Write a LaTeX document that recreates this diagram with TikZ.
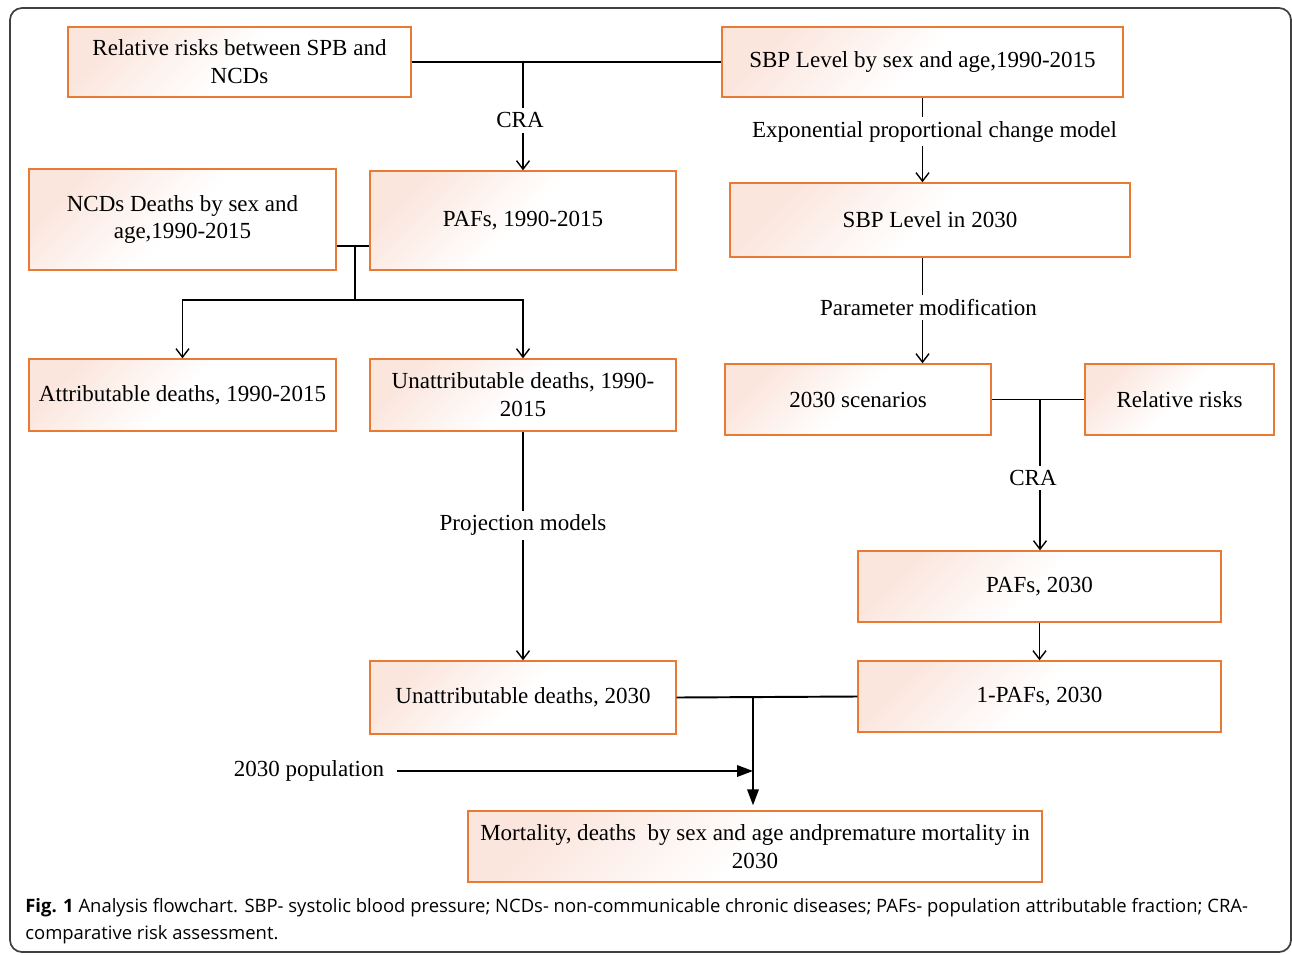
\documentclass[tikz,border=0pt]{standalone}
\usepackage{fontspec}
\setmainfont{Liberation Serif}
\newfontfamily\capfont{Open Sans}
\usepackage{tikz}
\usetikzlibrary{arrows.meta}
\definecolor{boxline}{RGB}{232,122,52}
\definecolor{boxfill}{RGB}{251,230,222}

\tikzset{
  box/.style={draw=boxline, line width=0.8pt, top color=boxfill, bottom color=white, middle color=white, shading angle=45, align=center, inner sep=0pt, font=\fontsize{13.1}{15.9}\selectfont},
  lab/.style={fill=white, inner sep=2.5pt, font=\fontsize{13.1}{15.9}\selectfont},
  line/.style={line width=0.8pt},
  link/.style={line width=0.8pt, -{Straight Barb[length=1.7mm,width=2.6mm]}},
  fat/.style={line width=1.1pt, -{Triangle[length=3.2mm,width=2.3mm]}}
}

\begin{document}
\begin{tikzpicture}[x=0.02cm, y=-0.02cm]
 \useasboundingbox (0,0) rectangle (1292,954);
 \draw[black!75, line width=1pt, rounded corners=0.24cm] (10,8) rectangle (1291,952);
 \node[box, minimum width=6.86cm, minimum height=1.40cm] (rrncd) at (239.5,62) {Relative risks between SPB and\\NCDs};
 \node[box, minimum width=8.02cm, minimum height=1.40cm] (sbp) at (922.5,62) {SBP Level by sex and age,1990-2015};
 \node[box, minimum width=6.14cm, minimum height=2.02cm] (ncdd) at (182.5,219.5) {NCDs Deaths by sex and\\age,1990-2015};
 \node[box, minimum width=6.12cm, minimum height=1.98cm] (paf) at (523,220.5) {PAFs, 1990-2015};
 \node[box, minimum width=8.00cm, minimum height=1.48cm] (sbpnew) at (930,220) {SBP Level in 2030};
 \node[box, minimum width=6.14cm, minimum height=1.44cm] (attr) at (182.5,395) {Attributable deaths, 1990-2015};
 \node[box, minimum width=6.12cm, minimum height=1.44cm] (unattr) at (523,395) {Unattributable deaths, 1990-\\2015};
 \node[box, minimum width=5.32cm, minimum height=1.42cm] (scen) at (858,399.5) {2030 scenarios};
 \node[box, minimum width=3.78cm, minimum height=1.42cm] (rr) at (1179.5,399.5) {Relative risks};
 \node[box, minimum width=7.26cm, minimum height=1.42cm] (pafnew) at (1039.5,586.5) {PAFs, 2030};
 \node[box, minimum width=7.26cm, minimum height=1.42cm] (onepaf) at (1039.5,696.5) {1-PAFs, 2030};
 \node[box, minimum width=6.12cm, minimum height=1.46cm] (unattrnew) at (523,697.5) {Unattributable deaths, 2030};
 \node[box, minimum width=11.48cm, minimum height=1.42cm] (mort) at (755,846.5) {Mortality, deaths\ \ by sex and age andpremature mortality in\\2030};
 \node[lab] (pop) at (309,771) {2030 population};
 \coordinate (top) at (523,62);
 \coordinate (left) at (355,246);
 \coordinate (fork) at (355,300);
 \coordinate (right) at (1040,399.5);
 \coordinate (bottom) at (753,697);
 \draw[line] (rrncd.east) -- (sbp.west);
 \draw[link] (top) -- node[lab, pos=0.54, xshift=-0.06cm] {CRA} (paf.north);
 \draw[link] (sbp.south) -- node[lab, pos=0.4, xshift=0.24cm] {Exponential proportional change model} (sbp.south |- sbpnew.north);
 \draw[link] (sbp.south |- sbpnew.south) -- node[lab, pos=0.47, xshift=0.12cm] {Parameter modification} (sbp.south |- scen.north);
 \draw[line] (ncdd.east |- left) -- (paf.west |- left);
 \draw[line] (left) -- (fork);
 \draw[link] (fork) -| (attr.north);
 \draw[link] (fork) -| (unattr.north);
 \draw[link] (unattr.south) -- node[lab, pos=0.41] {Projection models} (unattrnew.north);
 \draw[line] (scen.east) -- (rr.west);
 \draw[link] (right) -- node[lab, pos=0.52, xshift=-0.14cm] {CRA} (right |- pafnew.north);
 \draw[link] (pafnew) -- (onepaf);
 \draw[line, line width=1.1pt] (unattrnew.east) -- (onepaf.west);
 \draw[fat, shorten >=0.1cm] (bottom) -- (bottom |- mort.north);
 \draw[fat, shorten <=0.16cm] (pop.east) -- (pop -| bottom);
 \node[anchor=north west, align=left, inner sep=0pt, font=\capfont\fontsize{10.5}{15.4}\selectfont] (caption) at (25,898) {{\bfseries Fig. 1} Analysis flowchart. SBP- systolic blood pressure; NCDs- non-communicable chronic diseases; PAFs- population attributable fraction; CRA-\\comparative risk assessment.};
\end{tikzpicture}
\end{document}
